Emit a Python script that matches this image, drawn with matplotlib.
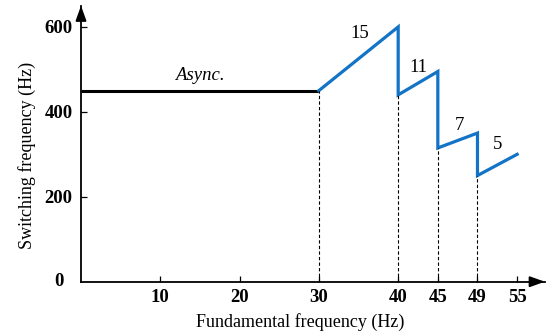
import numpy as np
import matplotlib
matplotlib.use("Agg")
import matplotlib.pyplot as plt


# Data
async_freq = [0, 30]
async_sw = [450, 450]

# blue synchronous segments (fundamental Hz, switching Hz)
sync_freq = [30, 40, 40, 45, 45, 49, 49, 55]
sync_sw = [450, 600, 440, 495, 315, 350, 250, 300]

# dashed drop lines at the pulse-number changes
drop_freq = [30, 40, 45, 49]
drop_sw = [450, 440, 315, 250]

x_ticks = [10, 20, 30, 40, 45, 49, 55]
y_ticks = [200, 400, 600]

pulse_labels = ["15", "11", "7", "5"]
pulse_label_xy = [(35.2, 585), (42.5, 505), (47.2, 369), (52.1, 322)]

# the x axis is not linear: 10 Hz steps up to 40, then half steps
KNOTS_F = [0, 10, 20, 30, 40, 45, 49, 55, 100]
KNOTS_P = [0, 1, 2, 3, 4, 4.5, 5, 5.5, 5.5 + 45 * 0.5 / 6]


def fwd(f):
    return np.interp(f, KNOTS_F, KNOTS_P)


def inv(p):
    return np.interp(p, KNOTS_P, KNOTS_F)


BLUE = "#1373c6"

plt.rcParams["font.family"] = ["Liberation Serif", "DejaVu Serif"]
plt.rcParams["font.size"] = 13

fig = plt.figure(figsize=(5.56, 3.33), dpi=100)
ax = fig.add_axes([0.1457, 0.154, 0.980 - 0.1457, 0.983 - 0.154])
ax.set_xscale("function", functions=(fwd, inv))

ax.plot(async_freq, async_sw, color="black", lw=2.2, solid_capstyle="butt")
ax.plot(sync_freq, sync_sw, color=BLUE, lw=2.3, solid_joinstyle="miter")
for f, s in zip(drop_freq, drop_sw):
    ax.plot([f, f], [0, s], color="black", lw=0.8, ls=(0, (3, 2)))

ax.set_xlim(0, inv(5.85))
ax.set_ylim(0, 650)

for spine in ["top", "right"]:
    ax.spines[spine].set_visible(False)
for spine in ["left", "bottom"]:
    ax.spines[spine].set_linewidth(1.3)

# arrow heads on the axes
ax.annotate("", xy=(1.0, 0), xycoords="axes fraction", xytext=(0.97, 0),
            arrowprops=dict(arrowstyle="-|>,head_length=0.7,head_width=0.25",
                            color="black", lw=1.3, shrinkA=0, shrinkB=0))
ax.annotate("", xy=(0, 1.0), xycoords="axes fraction", xytext=(0, 0.95),
            arrowprops=dict(arrowstyle="-|>,head_length=0.7,head_width=0.25",
                            color="black", lw=1.3, shrinkA=0, shrinkB=0))

ax.set_xticks(x_ticks)
ax.set_xticklabels([str(t) for t in x_ticks], fontweight="bold", fontsize=13.5)
ax.set_yticks(y_ticks)
ax.set_yticklabels([str(t) for t in y_ticks], fontweight="bold", fontsize=13.5)
ax.minorticks_off()
ax.tick_params(direction="in", length=4, width=0.9, pad=5)
ax.tick_params(axis="y", pad=6)

# origin label sits a bit apart from the y tick labels
ax.annotate("0", xy=(0, 0), xycoords="axes fraction", xytext=(-16, 0),
            textcoords="offset points", ha="center", va="center",
            fontweight="bold", fontsize=13.5)

ax.set_xlabel("Fundamental frequency (Hz)")
ax.xaxis.set_label_coords(0.472, -0.114)
ax.set_ylabel("Switching frequency (Hz)")
ax.yaxis.set_label_coords(-0.097, 0.459)

ax.text(15, 486, "Async.", style="italic", ha="center", va="center", fontsize=13.5)
for lab, (lx, ly) in zip(pulse_labels, pulse_label_xy):
    ax.text(lx, ly, lab, ha="center", va="center", fontsize=13.5)

fig.savefig("out.png", dpi=100)
